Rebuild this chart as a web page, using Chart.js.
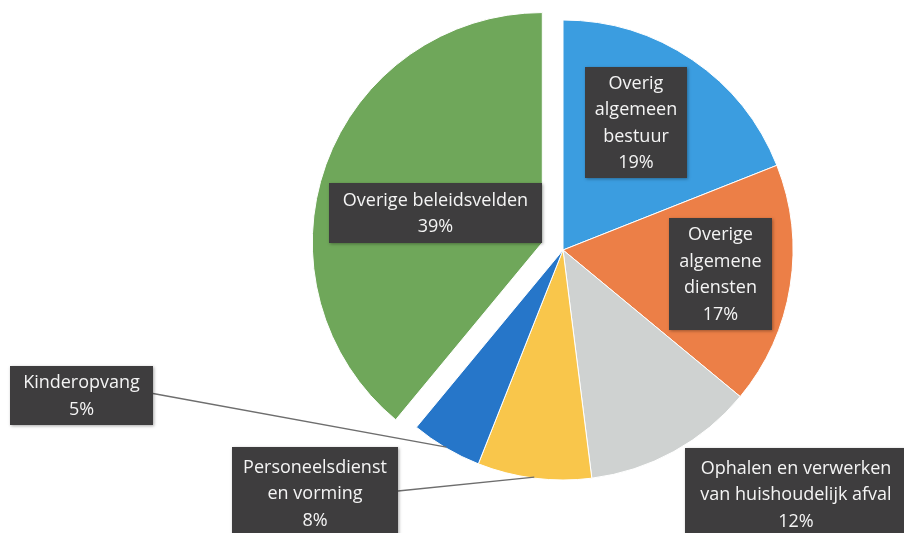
<!DOCTYPE html>
<html>
<head>
<meta charset="utf-8">
<script src="https://cdn.jsdelivr.net/npm/chart.js@4.4.1/dist/chart.umd.min.js"></script>
<style>
  html, body { margin: 0; padding: 0; background: #fff; }
  #wrap { width: 904px; height: 533px; }
</style>
</head>
<body>
<div id="wrap"><canvas id="pie" width="904" height="533"></canvas></div>
<script>
// data, clockwise from 12 o'clock
const labels = [
  ['Overig', 'algemeen', 'bestuur'],
  ['Overige', 'algemene', 'diensten'],
  ['Ophalen en verwerken', 'van huishoudelijk afval'],
  ['Personeelsdienst', 'en vorming'],
  ['Kinderopvang'],
  ['Overige beleidsvelden'],
];
const shares = [19, 17, 12, 8, 5, 39];
const colors = ['#3b9de0', '#ec7f47', '#cfd2d1', '#f9c64b', '#2676c9', '#6fa75a'];
const explode = [0, 0, 0, 0, 0, 22];   // px the slice is pulled out

// label boxes: [left, top, width, height], and whether a leader line is drawn
const boxes = [
  [585, 67, 102, 111],
  [669, 218, 103, 112],
  [685, 448, 222, 92],
  [232, 447, 166, 92],
  [10, 366, 143, 59],
  [329, 183, 213, 60],
];
const leader = [false, false, false, true, true, false];

// pull slices out by moving their centre (chart.js offset also changes the radius)
const explodeSlices = {
  id: 'explodeSlices',
  afterDatasetsUpdate(chart) {
    chart.getDatasetMeta(0).data.forEach((arc, i) => {
      const mid = (arc.startAngle + arc.endAngle) / 2;
      arc.x += Math.cos(mid) * explode[i];
      arc.y += Math.sin(mid) * explode[i];
    });
  }
};

const boxLabels = {
  id: 'boxLabels',
  afterDatasetsDraw(chart) {
    const ctx = chart.ctx;
    const arcs = chart.getDatasetMeta(0).data;
    ctx.save();

    // leader lines first, boxes go on top
    arcs.forEach((arc, i) => {
      if (!leader[i]) return;
      const [bx, by, bw, bh] = boxes[i];
      const mid = (arc.startAngle + arc.endAngle) / 2;
      const r = arc.outerRadius - 1;
      ctx.beginPath();
      ctx.moveTo(bx + bw, by + bh / 2 - 2);
      ctx.lineTo(arc.x + Math.cos(mid) * r, arc.y + Math.sin(mid) * r);
      ctx.strokeStyle = '#6e6e6e';
      ctx.lineWidth = 1.3;
      ctx.stroke();
    });

    arcs.forEach((arc, i) => {
      const [bx, by, bw, bh] = boxes[i];
      ctx.save();
      ctx.shadowColor = 'rgba(0,0,0,0.35)';
      ctx.shadowBlur = 3;
      ctx.shadowOffsetX = 1;
      ctx.shadowOffsetY = 1;
      ctx.fillStyle = '#3e3d3e';
      ctx.fillRect(bx, by, bw, bh);
      ctx.restore();

      const lines = labels[i].concat([shares[i] + '%']);
      const lh = 26.5;
      const cy = by + bh / 2 + 1;
      ctx.fillStyle = '#f4f4f4';
      ctx.font = '18px "Open Sans", Lato, sans-serif';
      ctx.textAlign = 'center';
      ctx.textBaseline = 'middle';
      lines.forEach((t, k) => {
        ctx.fillText(t, bx + bw / 2, cy + (k - (lines.length - 1) / 2) * lh);
      });
    });
    ctx.restore();
  }
};

new Chart(document.getElementById('pie'), {
  type: 'pie',
  data: {
    labels: labels.map(l => l.join(' ')),
    datasets: [{
      data: shares,
      backgroundColor: colors,
      borderColor: '#ffffff',
      borderWidth: 1,
      clip: false,
    }],
  },
  options: {
    responsive: false,
    animation: false,
    radius: 230,
    layout: { padding: { left: 222, right: 0, top: 0, bottom: 33 } },
    plugins: {
      legend: { display: false },
      tooltip: { enabled: false },
    },
  },
  plugins: [explodeSlices, boxLabels],
});
</script>
</body>
</html>
